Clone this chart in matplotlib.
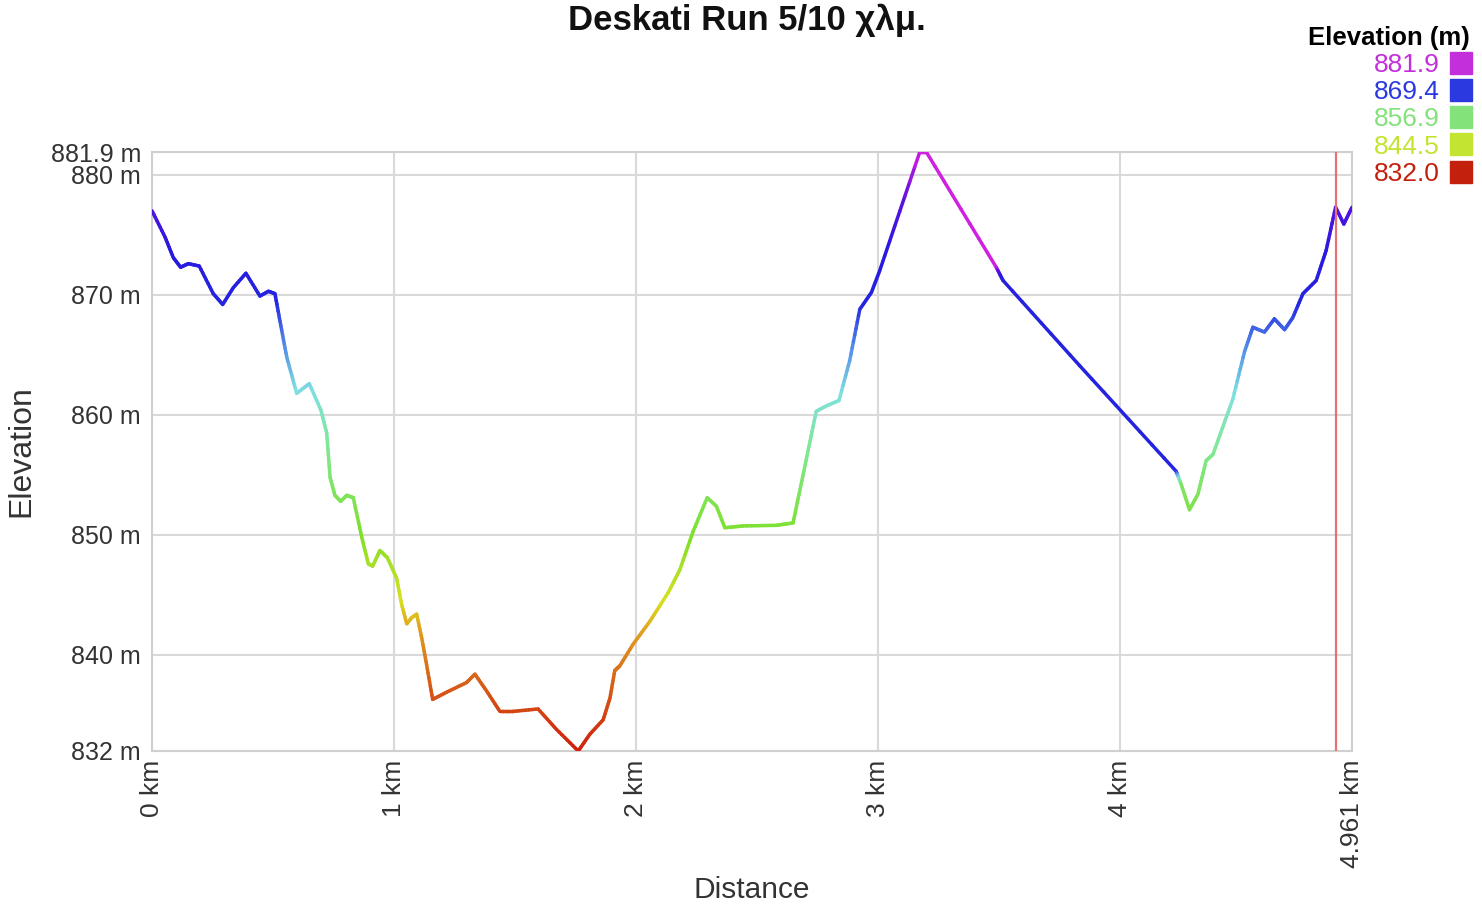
import numpy as np
import matplotlib
matplotlib.use("Agg")
from matplotlib import pyplot as plt
from matplotlib.collections import LineCollection
from matplotlib.colors import LinearSegmentedColormap
from matplotlib.lines import Line2D

plt.rcParams['font.family'] = ['Liberation Sans', 'DejaVu Sans']

# distance (km) and elevation (m)
dist = [0.000, 0.054, 0.088, 0.118, 0.150, 0.195, 0.253, 0.292, 0.336, 0.388,
        0.446, 0.481, 0.508, 0.529, 0.557, 0.598, 0.650, 0.698, 0.722, 0.736,
        0.756, 0.780, 0.805, 0.832, 0.867, 0.894, 0.912, 0.942, 0.973, 1.011,
        1.032, 1.053, 1.073, 1.094, 1.115, 1.135, 1.160, 1.218, 1.300, 1.335,
        1.383, 1.438, 1.493, 1.596, 1.672, 1.762, 1.810, 1.865, 1.893, 1.913,
        1.934, 1.989, 2.058, 2.134, 2.182, 2.237, 2.295, 2.333, 2.368, 2.444,
        2.581, 2.650, 2.678, 2.712, 2.746, 2.788, 2.840, 2.884, 2.926, 2.974,
        3.008, 3.174, 3.201, 3.490, 3.518, 3.835, 4.234, 4.255, 4.289, 4.324,
        4.358, 4.386, 4.468, 4.517, 4.551, 4.599, 4.640, 4.682, 4.716, 4.758,
        4.813, 4.854, 4.893, 4.927, 4.961]
elev = [877.0, 874.8, 873.1, 872.3, 872.6, 872.4, 870.1, 869.2, 870.6, 871.8,
        869.9, 870.3, 870.1, 867.8, 864.8, 861.8, 862.6, 860.4, 858.5, 854.8,
        853.3, 852.8, 853.3, 853.1, 849.8, 847.6, 847.4, 848.7, 848.1, 846.4,
        844.2, 842.6, 843.1, 843.4, 841.4, 839.2, 836.3, 836.9, 837.7, 838.4,
        837.0, 835.3, 835.3, 835.5, 833.8, 832.0, 833.4, 834.6, 836.4, 838.7,
        839.1, 840.9, 842.8, 845.2, 847.1, 850.3, 853.1, 852.4, 850.6, 850.75,
        850.8, 851.0, 853.7, 857.0, 860.3, 860.75, 861.2, 864.5, 868.8, 870.2,
        872.0, 881.9, 881.9, 872.3, 871.2, 864.1, 855.3, 854.2, 852.1, 853.4,
        856.2, 856.7, 861.3, 865.3, 867.3, 866.9, 868.0, 867.1, 868.1, 870.1,
        871.2, 873.7, 877.3, 875.9, 877.3]
# value the line is shaded by: elevation, except along the straight gap segments
shade = list(elev)
shade[73] = 881.9
shade[74] = 870.5
shade[75] = 870.0
shade[76] = 869.5

marker_km = 4.893
legend_vals = [881.9, 869.4, 856.9, 844.5, 832.0]
legend_cols = ['#c42fdc', '#2b3ae0', '#84e27a', '#c3e431', '#c4200e']
yticks = [832, 840, 850, 860, 870, 880, 881.9]
ytick_labels = ['832 m', '840 m', '850 m', '860 m', '870 m', '880 m', '881.9 m']
xticks = [0, 1, 2, 3, 4, 4.961]
xtick_labels = ['0 km', '1 km', '2 km', '3 km', '4 km', '4.961 km']

cmap = LinearSegmentedColormap.from_list('elev', [
    (0.00, '#d0200e'), (0.12, '#d86418'), (0.20, '#e0a020'), (0.25, '#d8e020'),
    (0.36, '#7de02a'), (0.50, '#80e890'), (0.60, '#80e0e0'), (0.68, '#5088e8'),
    (0.75, '#2424e0'), (0.84, '#2a18e0'), (0.93, '#6010e0'), (1.00, '#d020e0')])

fig = plt.figure(figsize=(14.82, 9.07), dpi=100)
ax = fig.add_axes([0.1026, 0.172, 0.8097, 0.6604])

# split every segment in small pieces so the colour runs smoothly along it
xs, ys, cs = [], [], []
for i in range(len(dist) - 1):
    t = np.linspace(0, 1, 9)
    xs.append(dist[i] + (dist[i + 1] - dist[i]) * t)
    ys.append(elev[i] + (elev[i + 1] - elev[i]) * t)
    cs.append(shade[i] + (shade[i + 1] - shade[i]) * t)
xs = np.concatenate(xs)
ys = np.concatenate(ys)
cs = np.concatenate(cs)
pts = np.column_stack([xs, ys]).reshape(-1, 1, 2)
segs = np.concatenate([pts[:-1], pts[1:]], axis=1)
lc = LineCollection(segs, cmap=cmap, norm=plt.Normalize(832, 881.9), linewidths=2.5,
                    capstyle='round', joinstyle='round', zorder=3)
lc.set_array((cs[:-1] + cs[1:]) / 2)
ax.add_collection(lc)

ax.axvline(marker_km, color='#e87070', lw=1.6, zorder=4)

ax.set_xlim(0, 4.961)
ax.set_ylim(832, 881.9)
ax.set_xticks(xticks)
ax.set_xticklabels(xtick_labels, rotation=90, fontsize=19, color='#333333')
ax.set_yticks(yticks)
ax.set_yticklabels(ytick_labels, fontsize=18, color='#333333')
ax.tick_params(axis='x', length=0, pad=6)
ax.tick_params(axis='y', length=0, pad=8)
ax.grid(True, color='#d9d9d9', lw=1.5)
ax.set_axisbelow(True)
for sp in ax.spines.values():
    sp.set_color('#d0d0d0')
    sp.set_linewidth(1.5)

ax.set_xlabel('Distance', fontsize=21.5, color='#333333', labelpad=6)
ax.set_ylabel('Elevation', fontsize=23, color='#333333', labelpad=10)
fig.text(0.504, 0.978, 'Deskati Run 5/10 χλμ.', ha='center', va='center',
         fontsize=25, fontweight='bold', color='#111111')

handles = [Line2D([], [], ls='', marker='s', markersize=16, color=c) for c in legend_cols]
leg = fig.legend(handles, ['%.1f' % v for v in legend_vals], title='Elevation (m)',
                 loc='upper right', bbox_to_anchor=(0.999, 0.983), frameon=False,
                 markerfirst=False, fontsize=19, handletextpad=0.45,
                 labelspacing=0.12, borderaxespad=0, handlelength=0.7)
leg.get_title().set_fontweight('bold')
leg.get_title().set_fontsize(18.5)
leg._legend_box.align = 'right'
for t, c in zip(leg.get_texts(), legend_cols):
    t.set_color(c)

fig.savefig('out.png', dpi=100)
